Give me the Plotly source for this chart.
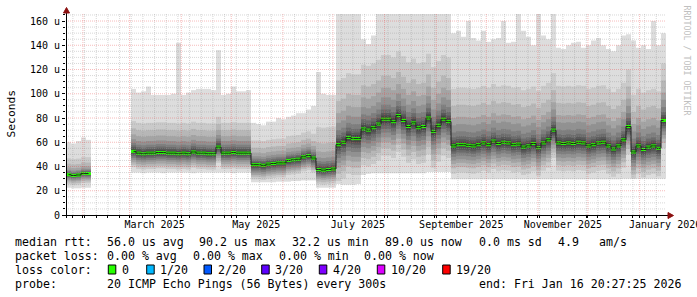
import pandas as pd
import plotly.graph_objects as go

# ---------------- data ----------------
END = pd.Timestamp("2026-01-16 20:27:25")
START = END - pd.Timedelta(days=360)
STEP_DAYS = 3  # one consolidated column every 3 days

median_us = [
    33.3, 32.6, 33.0, 34.3, 34.2,
    None, None, None, None, None, None, None, None,
    52.5, 51.0, 50.5, 51.0, 51.0, 51.5, 51.5, 51.0, 51.0, 50.5, 51.0, 50.5,
    52.0, 51.0, 51.0, 50.5, 50.5, 56.0, 51.0, 51.0, 51.5, 51.0, 51.0, 51.0,
    41.5, 41.5, 41.0, 42.0, 42.5, 43.0, 43.0, 45.0, 45.5, 46.0, 48.0, 49.0, 47.0,
    37.5, 37.0, 37.5, 38.0,
    58.0, 60.0, 64.0, 63.0, 63.0, 71.0, 70.0, 72.0, 75.0, 79.0, 79.0, 77.0,
    82.0, 78.0, 73.0, 76.0, 72.0, 73.0, 80.0, 69.0, 74.0, 79.0, 77.0,
    57.0, 58.0, 58.0, 57.5, 57.0, 58.0, 59.5, 58.0, 61.0, 59.0,
    60.0, 59.5, 58.0, 58.5, 56.0, 57.0, 59.0, 55.5, 59.5, 62.0,
    70.0, 59.5, 59.0, 59.5, 59.0, 60.0, 59.5, 57.0, 58.0, 59.5,
    60.0, 57.0, 54.5, 57.0, 62.0, 73.0, 52.0, 57.0, 54.0, 56.0,
    57.0, 55.0, 78.0,
]

ping_min_us = [
    22.5, 22.0, 22.0, 22.5, 22.5,
    None, None, None, None, None, None, None, None,
    35.0, 35.0, 34.5, 35.0, 35.0, 35.0, 34.5, 35.0, 35.0, 35.0, 35.0, 35.0,
    34.5, 35.0, 35.0, 35.0, 35.0, 35.0, 35.0, 35.0, 34.5, 35.0, 35.0, 35.0,
    27.0, 27.0, 27.0, 27.0, 27.0, 27.5, 27.5, 27.5, 28.0, 28.0, 28.5, 28.5, 28.5,
    22.5, 22.5, 22.5, 22.5,
    25.5, 25.0, 25.0, 25.0, 25.5, 33.0, 34.0, 34.5, 34.5, 34.5, 34.5, 34.5,
    34.5, 34.5, 34.5, 34.5, 34.5, 34.5, 35.5, 35.5, 35.5, 35.5, 35.5,
    29.5, 29.5, 29.5, 29.5, 29.5, 29.5, 29.5, 29.5, 29.5, 29.5,
    29.5, 29.5, 29.5, 29.5, 29.5, 29.5, 29.5, 29.5, 29.5, 29.5,
    29.5, 29.5, 29.5, 29.5, 29.5, 29.5, 29.5, 29.5, 29.5, 29.5,
    29.5, 29.5, 29.5, 29.5, 30.0, 30.0, 30.0, 30.0, 30.0, 30.0,
    30.0, 30.0, 30.0,
]

ping_max_us = [
    60, 59, 61, 64, 62,
    None, None, None, None, None, None, None, None,
    104, 101, 102, 106, 99, 99, 99, 99, 100, 142, 99, 101,
    103, 104, 104, 104, 103, 136, 99, 100, 106, 102, 102, 103,
    76, 75, 74, 77, 77, 80, 79, 81, 82, 84, 84, 87, 90,
    118, 100, 99, 99,
    170, 170, 170, 170, 170, 145, 141, 148, 170, 170, 170, 170,
    170, 170, 170, 170, 170, 170, 170, 170, 170, 170, 170,
    150, 152, 147, 160, 146, 144, 152, 143, 145, 146,
    160, 142, 143, 166, 152, 147, 140, 166, 148, 145,
    166, 138, 137, 140, 142, 143, 138, 140, 144, 146,
    140, 137, 135, 140, 148, 149, 144, 138, 140, 137,
    160, 140, 150,
]

# smoke profile per regime: ping 2..10 and ping 11..19 relative to the median (us)
segment_first_col = [0, 13, 37, 50, 54, 77]
segment_low_offsets = [
    [-8.0, -6.5, -5.0, -4.0, -3.0, -2.0, -1.3, -0.7, -0.3],
    [-13.0, -11.0, -9.0, -7.0, -5.5, -4.0, -2.7, -1.5, -0.6],
    [-12.0, -10.0, -8.5, -7.0, -5.5, -4.0, -2.8, -1.7, -0.7],
    [-12.0, -10.0, -8.0, -6.5, -5.0, -3.8, -2.7, -1.6, -0.6],
    [-30.0, -24.0, -19.0, -15.0, -11.0, -8.0, -5.0, -3.0, -1.2],
    [-23.0, -18.5, -15.0, -12.0, -9.0, -6.5, -4.5, -2.5, -1.0],
]
segment_high_offsets = [
    [0.4, 0.8, 1.3, 2.0, 3.0, 4.0, 6.0, 9.0, 13.5],
    [0.8, 2.0, 3.5, 5.0, 7.0, 10.0, 14.0, 19.0, 25.0],
    [0.5, 1.3, 2.3, 3.5, 5.0, 7.0, 10.0, 14.0, 20.0],
    [0.7, 1.8, 3.0, 5.0, 7.0, 10.0, 15.0, 22.0, 35.0],
    [1.2, 3.0, 5.0, 8.0, 12.0, 18.0, 26.0, 36.0, 53.0],
    [1.0, 2.5, 4.5, 7.0, 11.0, 17.0, 23.0, 33.0, 47.0],
]

smoke_greys = ["#dddddd", "#cacaca", "#b7b7b7", "#a4a4a4", "#919191",
               "#7e7e7e", "#6b6b6b", "#585858", "#454545", "#323232"]
median_color = "#26ff00"

x_label_dates = ["2025-03-16", "2025-05-16", "2025-07-16", "2025-09-16", "2025-11-16", "2026-01-16"]
x_label_text = ["March 2025", "May 2025", "July 2025", "September 2025", "November 2025", "January 2026"]
y_tick_values = [0, 20, 40, 60, 80, 100, 120, 140, 160]
y_tick_text = ["0", "20 u", "40 u", "60 u", "80 u", "100 u", "120 u", "140 u", "160 u"]
Y_MAX = 165.8

legend_row1 = ["median rtt:", "56.0 us avg", "90.2 us max", "32.2 us min", "89.0 us now", "0.0 ms sd", "4.9", "am/s"]
legend_row1_x = [16, 107.3, 200, 292.7, 386, 479.3, 558.3, 600]
legend_row2 = ["packet loss:", "0.00 % avg", "0.00 % max", "0.00 % min", "0.00 % now"]
legend_row2_x = [16, 107.3, 193.3, 279.3, 365]
loss_labels = ["0", "1/20", "2/20", "3/20", "4/20", "10/20", "19/20"]
loss_colors = ["#26ff00", "#00b8ff", "#0059ff", "#5e00ff", "#7e00ff", "#dd00ff", "#ff0000"]
loss_box_x = [108.3, 146.7, 204, 261.7, 319.3, 377.3, 442.7]
loss_label_x = [123, 160.7, 218.3, 276, 333.7, 391.7, 456.7]
legend_row4 = ["probe:", "20 ICMP Echo Pings (56 Bytes) every 300s", "end: Fri Jan 16 20:27:25 2026"]
legend_row4_x = [16, 107.3, 479.3]

# ---------------- geometry helpers (pixel -> paper) ----------------
W, H = 697, 297
ML, MR, MT, MB = 66, 31, 14, 82
PW, PH = W - ML - MR, H - MT - MB
def px(xp):
    return (xp - ML) / PW
def py(yp):
    return (H - MB - yp) / PH

MONO = "DejaVu Sans Mono"

fig = go.Figure()

n = len(median_us)
col_ms = STEP_DAYS * 86400000
centers = [START + pd.Timedelta(days=STEP_DAYS * (k + 0.5)) for k in range(n)]

def seg_of(k):
    s = 0
    for i, f in enumerate(segment_first_col):
        if f <= k:
            s = i
    return s

for i in range(1, 11):
    lows, heights = [], []
    for k in range(n):
        m = median_us[k]
        if m is None:
            lows.append(None); heights.append(None); continue
        if i == 1:
            lo, hi = ping_min_us[k], ping_max_us[k]
        else:
            s = seg_of(k)
            lo = max(m + segment_low_offsets[s][i - 2], ping_min_us[k])
            hi = min(m + segment_high_offsets[s][10 - i], ping_max_us[k])
        lows.append(lo); heights.append(hi - lo)
    fig.add_trace(go.Bar(x=centers, y=heights, base=lows, width=col_ms,
                         marker=dict(color=smoke_greys[i - 1], line=dict(width=0)),
                         hoverinfo="skip", showlegend=False))

fig.add_trace(go.Scatter(x=centers, y=median_us, mode="lines",
                         line=dict(color="#1e1e1e", width=1, shape="hvh"),
                         connectgaps=False, hoverinfo="skip", showlegend=False))
thick = 2.5
fig.add_trace(go.Bar(x=centers,
                     y=[None if m is None else thick for m in median_us],
                     base=[None if m is None else m - thick / 2 for m in median_us],
                     width=col_ms, marker=dict(color=median_color, line=dict(width=0)),
                     hoverinfo="skip", showlegend=False))

# ---------------- grid (drawn above the smoke, like rrdtool) ----------------
shapes = []
minor_col = "rgba(150,150,150,0.38)"
major_col = "rgba(230,70,70,0.36)"
month_starts = list(pd.date_range("2025-02-01", END, freq="MS"))
weeks = [d for d in pd.date_range("2025-01-26", END, freq="W-SUN") if d not in month_starts]
for v in range(5, 166, 5):
    if v % 20:
        shapes.append(dict(type="line", xref="paper", yref="y", x0=0, x1=1, y0=v, y1=v,
                           line=dict(color=minor_col, width=1, dash="1px,1px"), layer="above"))
for d in weeks:
    shapes.append(dict(type="line", xref="x", yref="paper", x0=d, x1=d, y0=0, y1=1,
                       line=dict(color=minor_col, width=1, dash="1px,1px"), layer="above"))
for v in y_tick_values[1:]:
    shapes.append(dict(type="line", xref="paper", yref="y", x0=0, x1=1, y0=v, y1=v,
                       line=dict(color=major_col, width=1, dash="1px,1px"), layer="above"))
for d in month_starts:
    shapes.append(dict(type="line", xref="x", yref="paper", x0=d, x1=d, y0=0, y1=1,
                       line=dict(color=major_col, width=1, dash="1px,1px"), layer="above"))

# axes with arrows
shapes.append(dict(type="line", xref="paper", yref="paper", x0=px(62), x1=px(669), y0=py(215.5), y1=py(215.5),
                   line=dict(color="black", width=1), layer="above"))
shapes.append(dict(type="line", xref="paper", yref="paper", x0=px(66.5), x1=px(66.5), y0=py(218), y1=py(11),
                   line=dict(color="black", width=1), layer="above"))
arrow = "#8b1010"
shapes.append(dict(type="path", xref="paper", yref="paper",
                   path=f"M {px(63.5)},{py(13)} L {px(66.5)},{py(7.5)} L {px(69.5)},{py(13)} Z",
                   fillcolor=arrow, line=dict(color=arrow, width=1), layer="above"))
shapes.append(dict(type="path", xref="paper", yref="paper",
                   path=f"M {px(668)},{py(212.5)} L {px(673.5)},{py(215.5)} L {px(668)},{py(218.5)} Z",
                   fillcolor=arrow, line=dict(color=arrow, width=1), layer="above"))

# loss colour boxes
for bx, c in zip(loss_box_x, loss_colors):
    shapes.append(dict(type="rect", xref="paper", yref="paper",
                       x0=px(bx), x1=px(bx + 7.5), y0=py(274), y1=py(265),
                       fillcolor=c, line=dict(color="black", width=1)))

# ---------------- texts ----------------
ann = []
LEG = 11.6
def txt(s, xpix, ypix, size=LEG, color="black", angle=0, xanchor="left"):
    ann.append(dict(text=s, xref="paper", yref="paper", x=px(xpix), y=py(ypix),
                    xanchor=xanchor, yanchor="middle", showarrow=False, textangle=angle,
                    borderpad=0, borderwidth=0, font=dict(family=MONO, size=size, color=color)))

off = -0.8
for s, xx in zip(legend_row1, legend_row1_x):
    txt(s, xx + off, 241.5)
for s, xx in zip(legend_row2, legend_row2_x):
    txt(s, xx + off, 255.5)
txt("loss color:", 16 + off, 269.5)
for s, xx in zip(loss_labels, loss_label_x):
    txt(s, xx + off, 269.5)
for s, xx in zip(legend_row4, legend_row4_x):
    txt(s, xx + off, 283.5)

txt("Seconds", 11, 113.5, size=11.3, angle=-90, xanchor="center")
txt("RRDTOOL / TOBI OETIKER", 686.5, 60, size=8.3, color="#c0c0c0", angle=90, xanchor="center")

# the last month label overflows the right edge in the original; plotly would
# pull it inwards, so it is placed at its date on the x axis as an annotation
ann.append(dict(text=x_label_text[-1], xref="x", yref="paper", x=x_label_dates[-1], y=py(224.3),
                xanchor="center", yanchor="middle", showarrow=False, borderpad=0, borderwidth=0,
                font=dict(family=MONO, size=10, color="black")))

fig.update_layout(
    width=W, height=H,
    margin=dict(l=ML, r=MR, t=MT, b=MB, pad=0),
    paper_bgcolor="white", plot_bgcolor="white",
    barmode="overlay", showlegend=False, hovermode=False,
    shapes=shapes, annotations=ann,
    xaxis=dict(type="date", range=[START, END], tickmode="array",
               tickvals=x_label_dates[:-1], ticktext=x_label_text[:-1], ticks="",
               ticklabelstandoff=2,
               showgrid=False, zeroline=False, showline=False,
               tickfont=dict(family=MONO, size=10, color="black"),
               minor=dict(tickmode="array", tickvals=month_starts + weeks, ticks="outside",
                          ticklen=2, tickcolor="black", tickwidth=1, showgrid=False)),
    yaxis=dict(range=[0, Y_MAX], tickmode="array", tickvals=y_tick_values, ticktext=y_tick_text,
               ticks="outside", ticklen=3, tickcolor="black", tickwidth=1,
               showgrid=False, zeroline=False, showline=False,
               tickfont=dict(family=MONO, size=10, color="black"),
               minor=dict(tick0=0, dtick=5, ticks="outside", ticklen=2, tickcolor="black", showgrid=False)),
)

fig.write_html("out.html")
